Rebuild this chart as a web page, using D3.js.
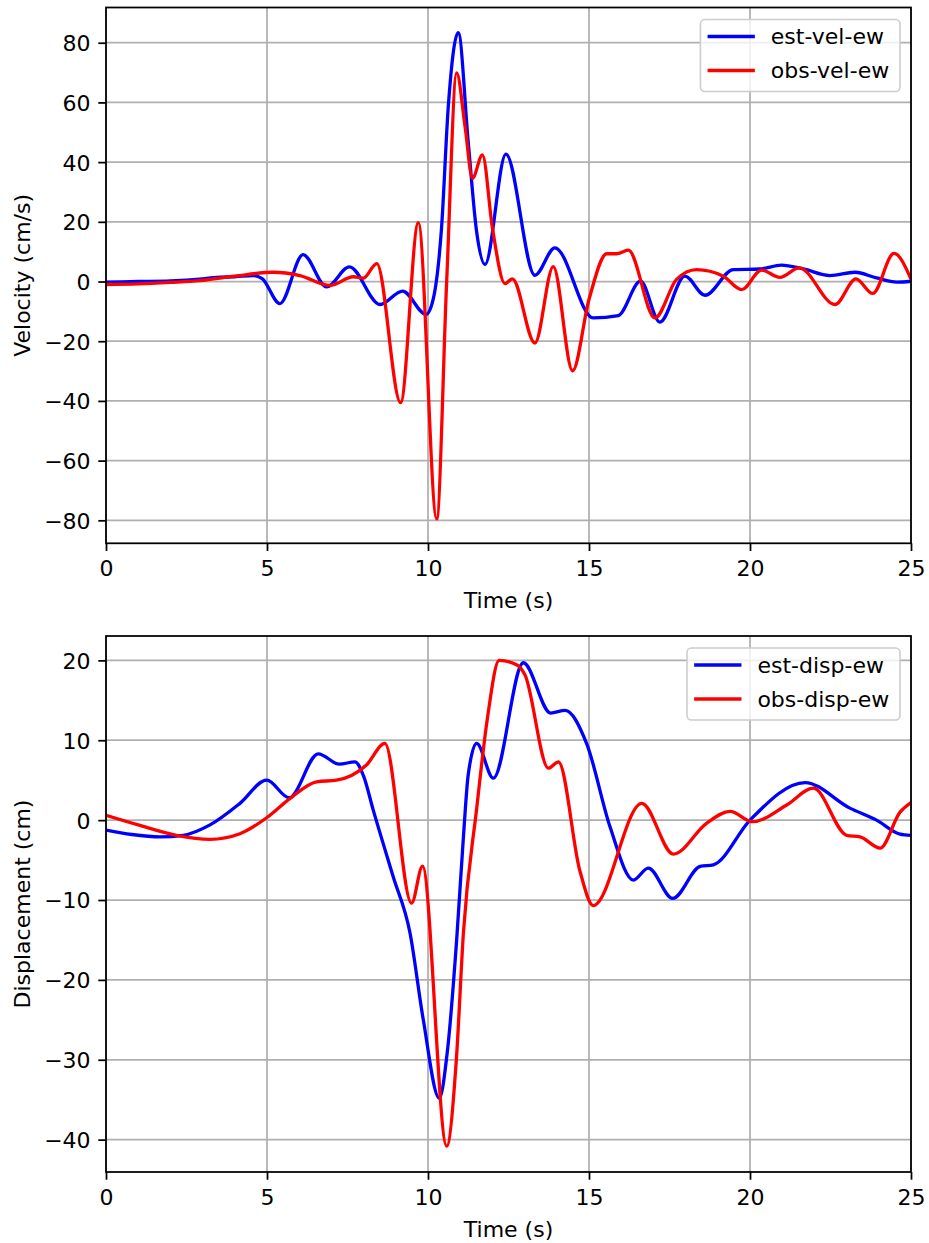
<!DOCTYPE html>
<html>
<head>
<meta charset="utf-8">
<script src="https://cdn.jsdelivr.net/npm/d3@7"></script>
<style>
  html, body { margin: 0; padding: 0; background: #fff; }
  svg { display: block; font-family: "DejaVu Sans", sans-serif; }
</style>
</head>
<body>
<svg id="chart" width="929" height="1243"></svg>
<script>
// Estimated vs observed ground motion, EW component

// Velocity (cm/s)
const velEstTime = [0, 1, 2, 3, 3.44, 4, 4.58, 4.85, 5.4, 6.12, 6.85, 7.56, 8.51, 9.21, 9.94, 10.16, 10.42, 10.63, 10.94, 11.25, 11.51, 11.77, 12.42, 13.32, 13.94, 15.13, 15.91, 16.6, 17.2, 17.98, 18.6, 19.48, 20.3, 20.98, 21.66, 22.48, 23.26, 23.93, 24.56, 25];
const velEst     = [-0.2, 0, 0.2, 0.9, 1.4, 1.6, 2.0, 1.0, -7.4, 9.0, -1.8, 4.9, -7.7, -3.2, -11, -6, 17.9, 58.6, 83.4, 46.6, 16.7, 5.7, 42.7, 2.1, 11.3, -12.2, -11.4, 0.1, -13.6, 1.8, -4.6, 4.0, 4.2, 5.5, 4.2, 2.0, 3.1, 1.2, -0.2, 0.1];

const velObsTime = [0, 1, 2, 2.92, 4, 5.2, 6.02, 6.96, 7.68, 7.99, 8.41, 9.15, 9.70, 10.27, 10.58, 10.89, 11.15, 11.38, 11.69, 12.0, 12.39, 12.62, 13.32, 13.89, 14.49, 15.0, 15.55, 15.86, 16.22, 17.05, 17.72, 18.34, 19.17, 19.74, 20.36, 20.93, 21.53, 22.64, 23.29, 23.81, 24.47, 25];
const velObs     = [-1.0, -0.8, -0.3, 0.3, 1.8, 3.1, 2.0, -1.3, 1.6, 1.1, 6.0, -40.6, 19.7, -79.5, 0, 69.9, 52, 34.6, 42.4, 18, -0.7, 0.9, -20.6, 5.0, -29.9, -6, 9.3, 9.3, 10.5, -12.2, 0.7, 4.0, 1.8, -2.7, 3.8, 1.4, 4.6, -7.7, 0.9, -4.0, 9.4, 0.8];

// Displacement (cm)
const dispEstTime = [0, 0.8, 1.68, 2.4, 3.23, 4.16, 4.99, 5.69, 6.59, 7.25, 7.73, 8.0, 8.3, 8.92, 9.44, 9.85, 10.35, 10.6, 10.89, 11.1, 11.25, 11.51, 12.03, 12.96, 13.81, 14.26, 14.93, 15.65, 16.38, 16.84, 17.6, 18.45, 18.86, 20.0, 21.71, 23.1, 23.93, 24.66, 25];
const dispEst     = [-1.25, -1.8, -2.1, -1.9, -0.6, 2.1, 5.0, 2.8, 8.3, 7.0, 7.3, 5.5, 1.25, -7.1, -14.1, -24.9, -34.8, -29, -15, -2.1, 5.7, 9.6, 5.25, 19.7, 13.4, 13.75, 9.55, -0.8, -7.5, -6.0, -9.8, -5.8, -5.6, 0, 4.7, 1.5, 0, -1.75, -1.9];

const dispObsTime = [0, 1, 2.19, 3.23, 4.16, 4.99, 5.71, 6.54, 7.16, 8.09, 8.66, 9.49, 9.83, 10.58, 10.88, 11.1, 11.51, 11.84, 12.21, 12.75, 13.01, 13.74, 14.05, 14.72, 15.13, 16.64, 17.62, 18.65, 19.38, 20.08, 21.14, 21.97, 23.0, 23.42, 24.04, 24.66, 25];
const dispObs     = [0.6, -0.6, -1.9, -2.4, -1.7, 0.3, 2.7, 4.8, 5.0, 6.9, 9.6, -10.4, -5.75, -40.8, -30, -14.1, 1.4, 12.6, 20.0, 19.45, 18.2, 6.5, 7.3, -6.4, -10.7, 2.1, -4.25, -0.4, 1.1, -0.2, 1.9, 4.0, -1.9, -2.1, -3.5, 1.0, 2.2];

// Axis ticks
const timeTicks = [0, 5, 10, 15, 20, 25];
const velTicks = [-80, -60, -40, -20, 0, 20, 40, 60, 80];
const dispTicks = [-40, -30, -20, -10, 0, 10, 20];

const FONT = 22;
const svg = d3.select("#chart");
const fmt = v => (v < 0 ? "\u2212" + Math.abs(v) : String(v));

function drawPanel(opt) {
  const { top, bottom, left, right, yDomain, yTicks, yLabel, series, id } = opt;
  const x = d3.scaleLinear().domain([0, 25]).range([left, right]);
  const y = d3.scaleLinear().domain(yDomain).range([bottom, top]);
  const g = svg.append("g");

  g.append("clipPath").attr("id", id).append("rect")
    .attr("x", left).attr("y", top).attr("width", right - left).attr("height", bottom - top);

  // grid
  g.append("g").selectAll("line").data(timeTicks).join("line")
    .attr("x1", d => x(d)).attr("x2", d => x(d)).attr("y1", top).attr("y2", bottom)
    .attr("stroke", "#b0b0b0").attr("stroke-width", 1.76);
  g.append("g").selectAll("line").data(yTicks).join("line")
    .attr("x1", left).attr("x2", right).attr("y1", d => y(d)).attr("y2", d => y(d))
    .attr("stroke", "#b0b0b0").attr("stroke-width", 1.76);

  // series
  const line = d3.line().x(d => x(d[0])).y(d => y(d[1])).curve(d3.curveMonotoneX);
  const lg = g.append("g").attr("clip-path", `url(#${id})`);
  series.forEach(s => {
    const pts = s.t.map((t, i) => [t, s.v[i]]);
    lg.append("path").datum(pts).attr("d", line)
      .attr("fill", "none").attr("stroke", s.color).attr("stroke-width", 3.3)
      .attr("stroke-linejoin", "round");
  });

  // axes
  const xAxis = d3.axisBottom(x).tickValues(timeTicks).tickFormat(fmt).tickSize(7.7).tickPadding(7.7);
  const yAxis = d3.axisLeft(y).tickValues(yTicks).tickFormat(fmt).tickSize(7.7).tickPadding(7.7);
  const ax = g.append("g").attr("transform", `translate(0,${bottom})`).call(xAxis);
  const ay = g.append("g").attr("transform", `translate(${left},0)`).call(yAxis);
  [ax, ay].forEach(a => {
    a.select(".domain").remove();
    a.selectAll(".tick line").attr("stroke", "#000").attr("stroke-width", 1.76);
    a.selectAll(".tick text").attr("font-size", FONT).attr("fill", "#000")
      .attr("font-family", "DejaVu Sans, sans-serif");
  });
  ax.selectAll(".tick text").attr("dy", null).attr("y", 33);
  ay.selectAll(".tick text").attr("dy", "0.36em");

  // spines
  g.append("rect").attr("x", left).attr("y", top).attr("width", right - left).attr("height", bottom - top)
    .attr("fill", "none").attr("stroke", "#000").attr("stroke-width", 1.76);

  // axis labels
  g.append("text").attr("x", (left + right) / 2).attr("y", bottom + 65)
    .attr("text-anchor", "middle").attr("font-size", FONT).text("Time (s)");
  g.append("text").attr("transform", `translate(30,${(top + bottom) / 2}) rotate(-90)`)
    .attr("text-anchor", "middle").attr("font-size", FONT).text(yLabel);

  // legend
  const pad = 0.4 * FONT, handle = 2 * FONT, hpad = 0.8 * FONT, rowH = 34;
  const leg = g.append("g");
  const box = leg.append("rect");
  const texts = series.map((s, i) => leg.append("text")
    .attr("font-size", FONT).attr("dy", "0.36em").text(s.name));
  const tw = d3.max(texts, t => t.node().getComputedTextLength());
  const bw = pad + handle + hpad + tw + pad + 2;
  const bh = rowH * series.length + 4;
  const bRight = right - 0.5 * FONT;
  const bTop = top + 0.5 * FONT + 1;
  const bLeft = bRight - bw;
  box.attr("x", bLeft).attr("y", bTop).attr("width", bw).attr("height", bh)
    .attr("rx", 4.4).attr("fill", "#fff").attr("fill-opacity", 0.8)
    .attr("stroke", "#cccccc").attr("stroke-width", 1.6);
  series.forEach((s, i) => {
    const cy = bTop + 17 + i * rowH;
    leg.append("line").attr("x1", bLeft + pad).attr("x2", bLeft + pad + handle)
      .attr("y1", cy).attr("y2", cy).attr("stroke", s.color).attr("stroke-width", 3.3)
      .attr("stroke-linecap", "square");
    texts[i].attr("x", bLeft + pad + handle + hpad).attr("y", cy);
  });
}

drawPanel({
  id: "clipVel", top: 7.5, bottom: 543.3, left: 106, right: 911,
  yDomain: [-87.7, 91.8], yTicks: velTicks, yLabel: "Velocity (cm/s)",
  series: [
    { name: "est-vel-ew", color: "#0000ff", t: velEstTime, v: velEst },
    { name: "obs-vel-ew", color: "#ff0000", t: velObsTime, v: velObs }
  ]
});

drawPanel({
  id: "clipDisp", top: 636, bottom: 1172, left: 106, right: 911,
  yDomain: [-44.05, 23.05], yTicks: dispTicks, yLabel: "Displacement (cm)",
  series: [
    { name: "est-disp-ew", color: "#0000ff", t: dispEstTime, v: dispEst },
    { name: "obs-disp-ew", color: "#ff0000", t: dispObsTime, v: dispObs }
  ]
});
</script>
</body>
</html>
